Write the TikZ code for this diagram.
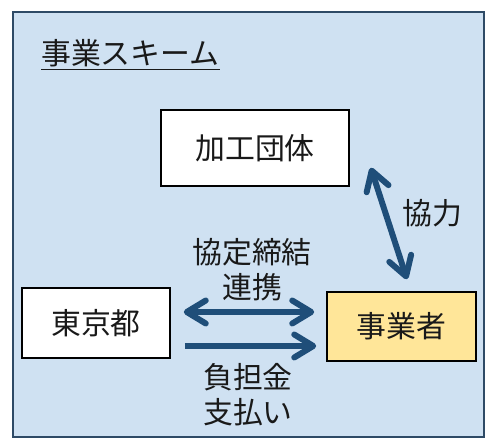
\documentclass[tikz,border=0pt]{standalone}
\usepackage{fontspec}
\setmainfont{Noto Sans CJK JP}
\usetikzlibrary{arrows.meta, positioning}
\definecolor{schemebg}{HTML}{CFE1F2}
\definecolor{schemeedge}{HTML}{2E4A66}
\definecolor{arrowblue}{HTML}{1F4E79}
\definecolor{bizyellow}{HTML}{FFE699}

\begin{document}
\begin{tikzpicture}[
    x=0.02cm, y=-0.02cm,
    txt/.style={font=\fontsize{17}{20}\selectfont, text=black!90},
    party/.style={draw, line width=0.9pt, txt, fill=white},
    arr/.style={line width=3.4pt, arrowblue, -{Straight Barb[length=0.38cm, width=0.46cm, round]}},
    biarr/.style={arr, {Straight Barb[length=0.38cm, width=0.46cm, round]}-{Straight Barb[length=0.38cm, width=0.46cm, round]}},
]
\useasboundingbox (0,0) rectangle (500,448);

% Background frame
\draw[draw=schemeedge, fill=schemebg, line width=1.2pt] (13,12) rectangle (484,437);

\node[txt, anchor=west] (title) at (35,55) {\underline{事業スキーム}};

% Parties
\node[party, minimum width=3.76cm, minimum height=1.52cm] (kako) at (255,148) {加工団体};
\node[party, minimum width=2.96cm, minimum height=1.4cm] (tokyo) at (96,323) {東京都};
\node[party, fill=bizyellow, minimum width=2.98cm, minimum height=1.38cm] (jigyo) at (401.5,326.5) {事業者};

% Connectors
\draw[biarr] ([xshift=0.42cm, yshift=0.38cm]kako.south east) -- ([xshift=0.11cm, yshift=0.24cm]jigyo.north);
\draw[biarr, shorten <=0.26cm, shorten >=0.24cm] ([yshift=0.22cm]tokyo.east) -- ([yshift=0.22cm]tokyo.east -| jigyo.west);
\draw[arr, shorten <=0.28cm, shorten >=0.2cm] ([yshift=-0.46cm]tokyo.east) -- ([yshift=-0.46cm]tokyo.east -| jigyo.west);

% Labels
\node[txt] (kyoryoku) at (432,213) {協力};
\node[txt, align=center] (kyotei) at (252,270) {協定締結\\連携};
\node[txt, align=center] (futan) at (248,395) {負担金\\支払い};
\end{tikzpicture}
\end{document}
